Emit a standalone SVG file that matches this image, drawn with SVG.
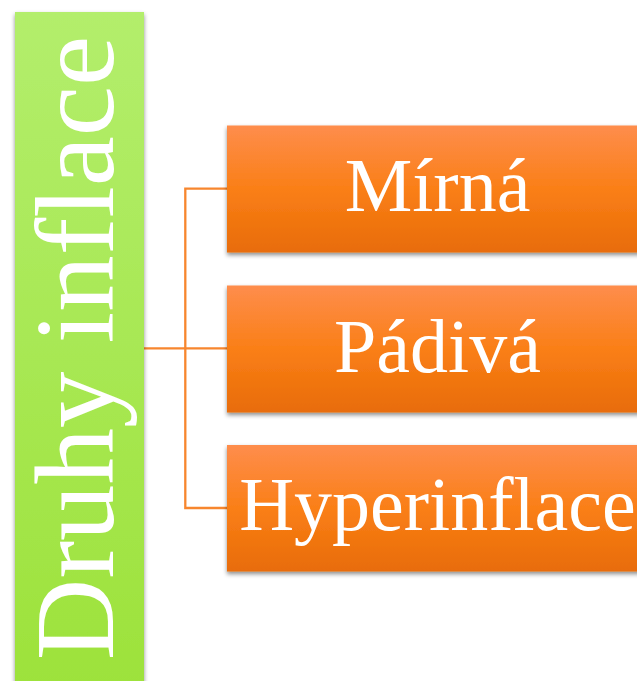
<svg xmlns="http://www.w3.org/2000/svg" width="637" height="681" viewBox="0 0 637 681">
<style>
.lbl{font-family:"Liberation Serif","DejaVu Serif",serif;fill:#ffffff;text-anchor:middle}
.box{fill:url(#og);filter:url(#sh)}
.conn{fill:none;stroke:#f7862e;stroke-width:2.3}
</style>
<defs>
<linearGradient id="og" x1="0" y1="0" x2="0" y2="1">
<stop offset="0" stop-color="#fe8d4c"/>
<stop offset="0.5" stop-color="#fa7f17"/>
<stop offset="1" stop-color="#e86c07"/>
</linearGradient>
<linearGradient id="gg" x1="0" y1="0" x2="0" y2="1">
<stop offset="0" stop-color="#b3ee6c"/>
<stop offset="1" stop-color="#9de23b"/>
</linearGradient>
<filter id="sh" x="-10%" y="-10%" width="120%" height="130%">
<feDropShadow dx="0" dy="2.5" stdDeviation="2.2" flood-color="#000" flood-opacity="0.45"/>
</filter>
</defs>
<g id="connectors">
<path class="conn" d="M144 348.3H227"/>
<path class="conn" d="M227 188.7H185.3V508H227"/>
</g>
<g id="root">
<rect x="15" y="12" width="129" height="675" fill="url(#gg)" filter="url(#sh)"/>
<text class="lbl" transform="translate(113,348) rotate(-90)" font-size="113">Druhy inflace</text>
</g>
<g id="n1">
<rect class="box" x="227" y="125.5" width="420" height="127"/>
<text class="lbl" x="437.5" y="211" font-size="76">Mírná</text>
</g>
<g id="n2">
<rect class="box" x="227" y="285.5" width="420" height="127"/>
<text class="lbl" x="437.5" y="372" font-size="76">Pádivá</text>
</g>
<g id="n3">
<rect class="box" x="227" y="445" width="420" height="126.5"/>
<text class="lbl" x="437.5" y="530" font-size="76">Hyperinflace</text>
</g>
</svg>
